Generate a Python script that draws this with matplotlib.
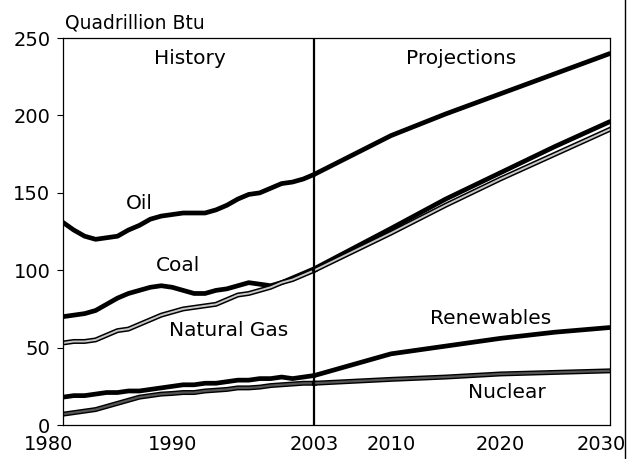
import matplotlib.pyplot as plt
import matplotlib.patheffects as pe
import matplotlib.transforms as mtransforms
from matplotlib.lines import Line2D

plt.rcParams['font.family'] = ['DejaVu Sans']

# history 1980-2003
hist_years = list(range(1980, 2004))
oil_hist = [131, 126, 122, 120, 121, 122, 126, 129, 133, 135, 136, 137,
            137, 137, 139, 142, 146, 149, 150, 153, 156, 157, 159, 162]
coal_hist = [70, 71, 72, 74, 78, 82, 85, 87, 89, 90, 89, 87,
             85, 85, 87, 88, 90, 92, 91, 90, 92, 95, 98, 101]
gas_hist = [53, 54, 54, 55, 58, 61, 62, 65, 68, 71, 73, 75,
            76, 77, 78, 81, 84, 85, 87, 89, 92, 94, 97, 100]
renew_hist = [18, 19, 19, 20, 21, 21, 22, 22, 23, 24, 25, 26,
              26, 27, 27, 28, 29, 29, 30, 30, 31, 30, 31, 32]
nuc_hist = [7, 8, 9, 10, 12, 14, 16, 18, 19, 20, 20.4, 21,
            21, 22, 22.5, 23, 24, 24, 24.5, 25.5, 26, 26.5, 27, 27]

# projections 2003-2030
proj_years = [2003, 2010, 2015, 2020, 2025, 2030]
oil_proj = [162, 187, 201, 214, 227, 240]
coal_proj = [101, 127, 146, 163, 180, 196]
gas_proj = [100, 124, 142, 159, 175, 191]
renew_proj = [32, 46, 51, 56, 60, 63]
nuc_proj = [27, 29.5, 31, 33, 34, 35]

x_ticks = [1980, 1990, 2003, 2010, 2020, 2030]
y_ticks = [0, 50, 100, 150, 200, 250]

fig = plt.figure(figsize=(6.28, 4.59), dpi=100)
ax = fig.add_axes([0.100, 0.074, 0.871, 0.843])

dark = dict(color='black', lw=3.4, solid_capstyle='round')
light_fx = [pe.Stroke(linewidth=3.6, foreground='black'), pe.Normal()]

for yrs, vals in [(hist_years, oil_hist), (proj_years, oil_proj),
                  (hist_years, coal_hist), (proj_years, coal_proj),
                  (hist_years, renew_hist), (proj_years, renew_proj)]:
    ax.plot(yrs, vals, **dark)

for yrs, vals in [(hist_years, gas_hist), (proj_years, gas_proj)]:
    ax.plot(yrs, vals, color='#c8c8c8', lw=1.4, path_effects=light_fx)
for yrs, vals in [(hist_years, nuc_hist), (proj_years, nuc_proj)]:
    ax.plot(yrs, vals, color='#555555', lw=1.6, path_effects=light_fx)

ax.axvline(2003, color='black', lw=1.6)

ax.set_xlim(1980, 2030)
ax.set_ylim(0, 250)
ax.set_xticks(x_ticks)
ax.set_xticklabels([str(x) for x in x_ticks])
ax.set_yticks(y_ticks)
ax.tick_params(axis='x', length=0, pad=7, labelsize=14)
ax.tick_params(axis='y', length=4, width=0.8, pad=5, labelsize=14)
for s in ax.spines.values():
    s.set_linewidth(0.9)

# first and last year labels sit a bit inward in the original
xlabels = ax.get_xticklabels()
for lab, dx in [(xlabels[0], -14), (xlabels[-1], -9)]:
    lab.set_transform(lab.get_transform() +
                      mtransforms.ScaledTranslation(dx / 100, 0, fig.dpi_scale_trans))

fs = 14.5
ax.text(1991.6, 237, 'History', ha='center', va='center', fontsize=fs)
ax.text(2016.4, 237, 'Projections', ha='center', va='center', fontsize=fs)
ax.text(1987.0, 143, 'Oil', ha='center', va='center', fontsize=fs)
ax.text(1990.5, 103, 'Coal', ha='center', va='center', fontsize=fs)
ax.text(1995.2, 61, 'Natural Gas', ha='center', va='center', fontsize=fs)
ax.text(2019.1, 69, 'Renewables', ha='center', va='center', fontsize=fs)
ax.text(2020.6, 21, 'Nuclear', ha='center', va='center', fontsize=fs)

fig.text(0.103, 0.950, 'Quadrillion Btu', ha='left', va='center', fontsize=13.5)
fig.add_artist(Line2D([0.995, 0.995], [0.0, 1.0], color='black', lw=1.0,
                      transform=fig.transFigure))

fig.savefig('out.png', dpi=100)
